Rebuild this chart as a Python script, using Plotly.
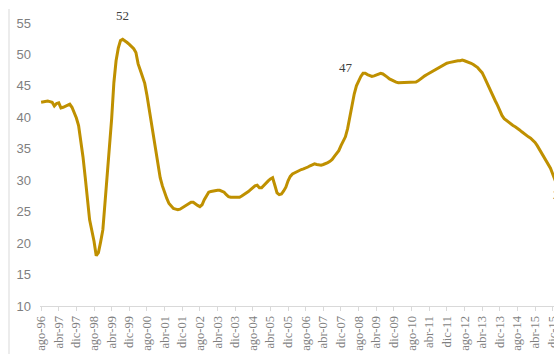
import plotly.graph_objects as go

# Monthly series, starting August 1996
month_abbr = ["ene", "feb", "mar", "abr", "may", "jun",
              "jul", "ago", "sep", "oct", "nov", "dic"]
start_year = 1996
start_month = 7  # index into month_abbr -> "ago"

values = [
    42.4, 42.5, 42.6, 42.6, 42.5, 42.4, 41.8, 42.2, 42.3, 41.5,   # ago-96 ..
    41.6, 41.8, 42.0, 42.1, 41.6, 40.8, 39.9, 38.7, 36.5, 33.7,
    30.5, 27.4, 23.7, 22.0, 20.3, 18.0, 18.5, 20.2, 22.1, 26.5,
    30.5, 35.3, 39.8, 45.5, 49.0, 51.0, 52.2, 52.4, 52.2, 51.9,
    51.6, 51.3, 50.9, 50.3, 48.5, 47.5, 46.5, 45.4, 43.5, 41.3,
    39.0, 36.6, 34.2, 32.1, 30.4, 29.1, 28.0, 27.1, 26.3, 25.8,
    25.5, 25.4, 25.3, 25.4, 25.6, 25.8, 26.1, 26.3, 26.5, 26.5,
    26.2, 26.0, 25.8, 26.1, 26.9, 27.6, 28.1, 28.2, 28.3, 28.3,
    28.4, 28.4, 28.3, 28.1, 27.7, 27.4, 27.3, 27.3, 27.2, 27.2,
    27.3, 27.5, 27.7, 27.9, 28.2, 28.5, 28.8, 29.1, 29.2, 28.8,
    28.8, 29.2, 29.6, 29.9, 30.2, 30.4, 29.2, 28.0, 27.7, 27.8,
    28.3, 28.9, 29.9, 30.6, 31.0, 31.2, 31.4, 31.6, 31.7, 31.8,
    31.9, 32.1, 32.3, 32.5, 32.6, 32.5, 32.4, 32.4, 32.5, 32.6,
    32.8, 33.0, 33.3, 33.8, 34.2, 34.7, 35.5, 36.2, 36.9, 38.2,
    40.2, 42.1, 43.7, 45.0, 45.9, 46.5, 47.0, 47.0, 46.8, 46.6,
    46.5, 46.6, 46.7, 46.9, 47.0, 46.9, 46.7, 46.4, 46.1, 45.9,
    45.7, 45.6, 45.5, 45.5, 45.5, 45.5, 45.5, 45.5, 45.5, 45.5,
    45.6, 45.8, 46.1, 46.4, 46.6, 46.8, 47.0, 47.3, 47.5, 47.7,
    47.9, 48.1, 48.3, 48.4, 48.6, 48.7, 48.8, 48.8, 48.9, 49.0,
    49.0, 49.1, 49.0, 48.9, 48.8, 48.6, 48.4, 48.2, 47.9, 47.5,
    47.1, 46.4, 45.6, 44.9, 44.0, 43.3, 42.6, 41.9, 41.1, 40.3,
    39.8, 39.5, 39.2, 38.9, 38.7, 38.5, 38.3, 38.0, 37.7, 37.4,
    37.1, 36.9, 36.7, 36.4, 36.0, 35.5, 34.9, 34.4, 33.8, 33.3,
    32.6, 31.9, 31.0, 30.1, 29.2, 28.3,
]

categories = []
for i in range(len(values)):
    k = start_month + i
    categories.append(f"{month_abbr[k % 12]}-{(start_year + k // 12) % 100:02d}")

tick_step = 8
tick_vals = categories[::tick_step]

# labelled points: (category index, text)
labels = [(37, "52"), (146, "47")]
last_label = "28"

line_color = "#BF9000"
axis_gray = "#D9D9D9"
text_gray = "#7F7F7F"

fig = go.Figure()
fig.add_trace(go.Scatter(
    x=categories, y=values, mode="lines",
    line=dict(color=line_color, width=3),
    hoverinfo="skip", showlegend=False,
))

annotations = []
shifts = {"52": (0, 24), "47": (-17, 6)}
for idx, txt in labels:
    dx, dy = shifts[txt]
    annotations.append(dict(
        x=categories[idx], y=values[idx], xref="x", yref="y",
        text=txt, showarrow=False, xshift=dx, yshift=dy,
        font=dict(family="Liberation Serif", size=13, color="#404040"),
    ))
# label of the final point, sitting past the right edge
annotations.append(dict(
    x=1, y=values[-1], xref="paper", yref="y", xanchor="left",
    text=last_label, showarrow=False, xshift=-3, yshift=-4,
    font=dict(family="Liberation Serif", size=13, color="#404040"),
))

fig.update_layout(
    width=554, height=354,
    margin=dict(l=40, r=0, t=23, b=48, autoexpand=False),
    paper_bgcolor="white", plot_bgcolor="white",
    xaxis=dict(
        type="category",
        range=[-0.5, 232.6],
        tickmode="array", tickvals=tick_vals, ticktext=tick_vals,
        tickangle=-90,
        showline=True, linecolor=axis_gray, linewidth=1,
        ticks="outside", ticklen=4, tickcolor=axis_gray,
        showgrid=False, zeroline=False,
        tickfont=dict(family="Liberation Serif", size=12.5, color=text_gray),
        automargin=False,
    ),
    yaxis=dict(
        range=[10, 55], tickmode="array",
        tickvals=[10, 15, 20, 25, 30, 35, 40, 45, 50, 55],
        showgrid=False, zeroline=False, showline=False, ticks="",
        ticklabelstandoff=8,
        tickfont=dict(family="Liberation Sans", size=13, color=text_gray),
        automargin=False,
    ),
    annotations=annotations,
    shapes=[dict(
        type="line", xref="paper", yref="paper",
        x0=-31 / 514, x1=-31 / 514, y0=-0.2, y1=297 / 283,
        line=dict(color=axis_gray, width=1),
    )],
)

fig.write_html("out.html")
